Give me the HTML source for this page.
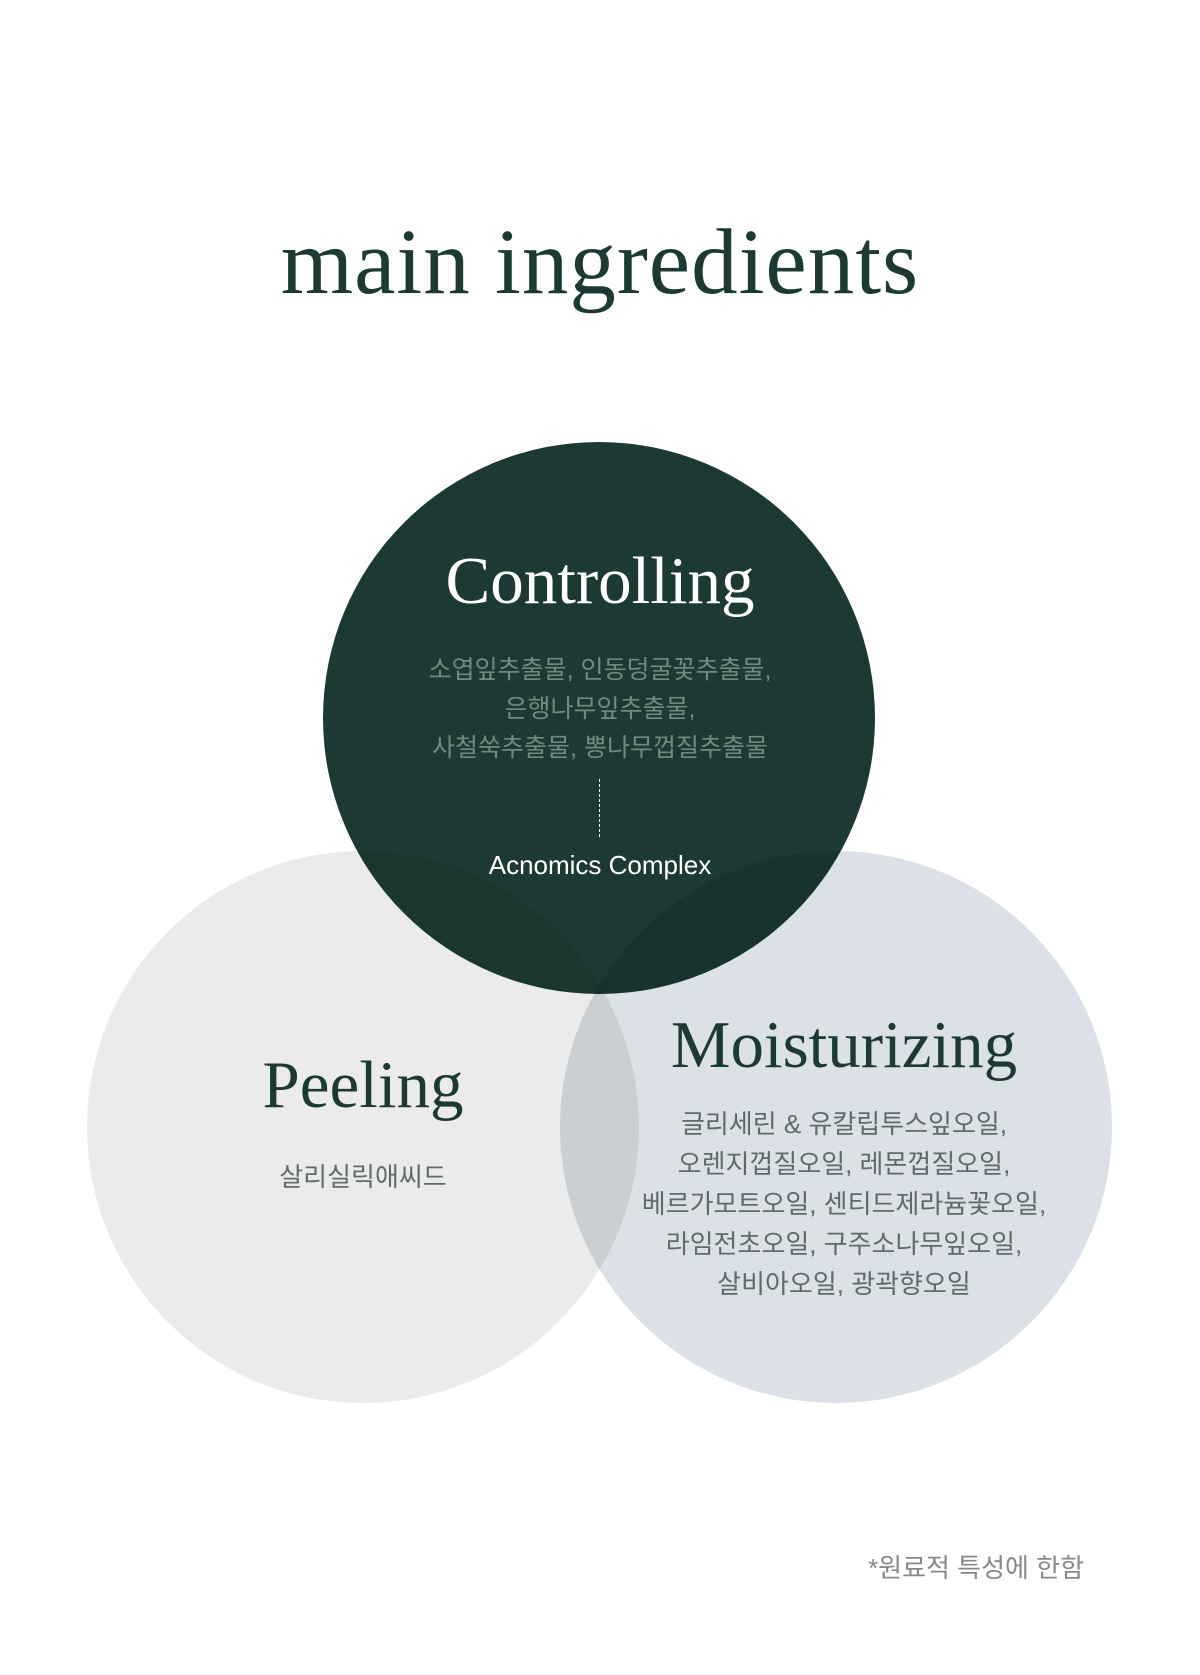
<!DOCTYPE html>
<html><head><meta charset="utf-8"><style>
body{margin:0;width:1200px;height:1675px;background:#fff;position:relative;overflow:hidden;font-family:"Liberation Sans","Noto Sans CJK KR",sans-serif}
.c{position:absolute;border-radius:50%}
.t{position:absolute;left:0;width:1200px;text-align:center;white-space:nowrap}
.serif{font-family:"Liberation Serif","Noto Serif CJK SC",serif}
</style></head><body>
<div class="t serif" style="top:209px;font-size:93px;color:#1c3a33;letter-spacing:1px">main ingredients</div>

<div class="c" style="left:323px;top:442px;width:552px;height:552px;background:#1c3a33"></div>
<div class="c" style="left:87px;top:851px;width:552px;height:552px;background:#ebebeb;mix-blend-mode:multiply"></div>
<div class="c" style="left:560px;top:851px;width:552px;height:552px;background:#dbe1e6;mix-blend-mode:multiply"></div>

<div class="t serif" style="left:0;top:543px;font-size:67px;color:#fff">Controlling</div>
<div class="t" style="top:651px;font-size:25px;line-height:39px;color:#6f8a80">소엽잎추출물, 인동덩굴꽃추출물,<br>은행나무잎추출물,<br>사철쑥추출물, 뽕나무껍질추출물</div>
<div style="position:absolute;left:599px;top:779px;height:58px;border-left:1px dashed #fff"></div>
<div class="t" style="top:850px;font-size:26px;color:#fff">Acnomics Complex</div>

<div class="t serif" style="left:-237px;top:1047px;font-size:67px;color:#1c3a33">Peeling</div>
<div class="t" style="left:-237px;top:1157px;font-size:26px;color:#5f6d68">살리실릭애씨드</div>

<div class="t serif" style="left:244px;top:1007px;font-size:67px;color:#1c3a33">Moisturizing</div>
<div class="t" style="left:244px;top:1104px;font-size:26px;line-height:40px;color:#5d6b6b">글리세린 &amp; 유칼립투스잎오일,<br>오렌지껍질오일, 레몬껍질오일,<br>베르가모트오일, 센티드제라늄꽃오일,<br>라임전초오일, 구주소나무잎오일,<br>살비아오일, 광곽향오일</div>

<div style="position:absolute;right:116px;top:1548px;font-size:26px;color:#888">*원료적 특성에 한함</div>
</body></html>
